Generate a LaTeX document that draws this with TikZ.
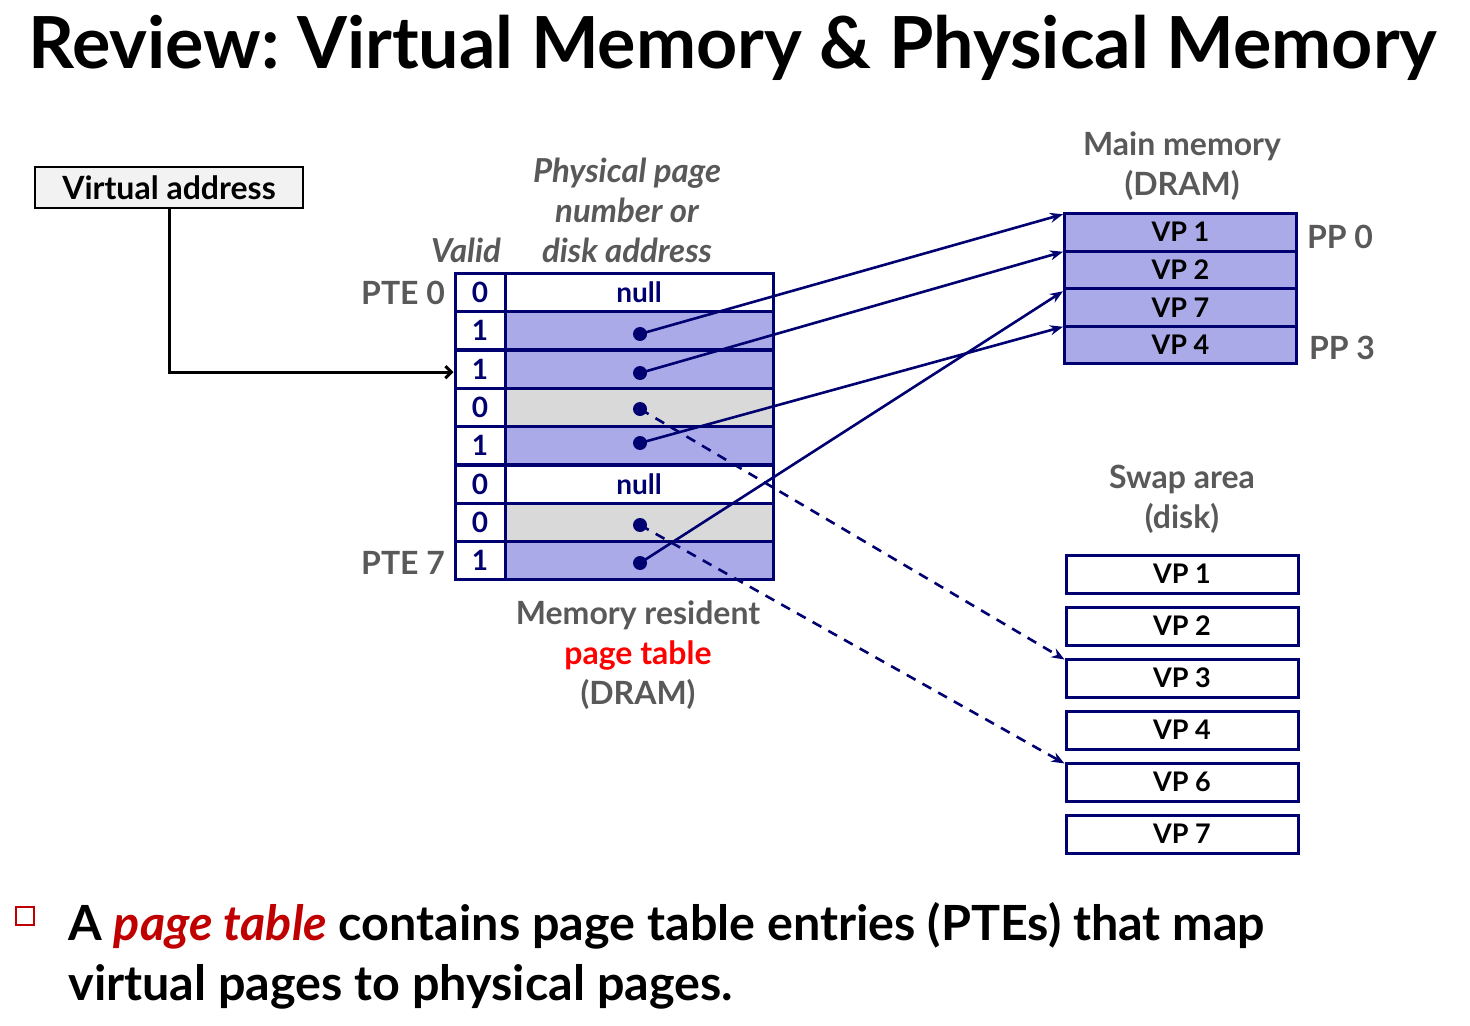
\documentclass[tikz,border=0pt]{standalone}
\usepackage{fontspec}
\setmainfont{Lato}
\usetikzlibrary{arrows.meta}
\definecolor{navy}{RGB}{0,0,112}
\definecolor{ptefill}{RGB}{170,170,232}
\definecolor{ptegray}{RGB}{217,217,217}
\definecolor{lblgray}{RGB}{89,89,89}
\definecolor{darkred}{RGB}{192,0,0}
\frenchspacing
\begin{document}
\begin{tikzpicture}[x=0.5pt,y=-0.5pt,>=Stealth,font=\bfseries]
\useasboundingbox (0,0) rectangle (1470,1026);
\tikzstyle{vc}=[draw=navy,line width=1.5pt,fill=white,minimum width=25pt,minimum height=19.17pt,inner sep=0pt,text height=10pt,text depth=0pt,text=navy,font=\fontsize{14}{16}\bfseries\selectfont]
\tikzstyle{pc}=[vc,minimum width=134pt]
\tikzstyle{mc}=[draw=navy,line width=1.5pt,fill=ptefill,minimum width=116pt,minimum height=18.75pt,inner sep=0pt,text height=9.5pt,text depth=0pt,font=\fontsize{13.5}{15}\bfseries\selectfont]
\tikzstyle{sc}=[mc,fill=white,minimum height=19pt]
\tikzstyle{pdot}=[circle,fill=navy,inner sep=0pt,minimum size=7pt]
\tikzstyle{lbl}=[text=lblgray,font=\fontsize{16}{20}\bfseries\selectfont]
\tikzstyle{link}=[navy,line width=1.3pt,-{Stealth[length=6.5pt,width=5pt]}]
% title
\node[anchor=base west,inner sep=0pt,font=\fontsize{35.9}{40}\bfseries\selectfont] (title) at (28,69) {Review: Virtual Memory \& Physical Memory};
% virtual address
\node[draw,line width=1pt,fill=gray!10,minimum width=134pt,minimum height=20.5pt,inner sep=0pt,font=\fontsize{16}{18}\bfseries\selectfont] (va) at (169,187.5) {Virtual address};
% page table
\node[lbl,align=center,font=\fontsize{16.5}{20}\bfseries\itshape\selectfont] (ppnlbl) at (627,210) {Physical page\\number or\\disk address};
\node[lbl,font=\fontsize{16.5}{20}\bfseries\itshape\selectfont] (validlbl) at (466,250) {Valid};
\node[vc] (v0) at (480,292.5) {0}; \node[pc] (p0) at (639,292.5) {null};
\node[vc] (v1) at (480,330.8) {1}; \node[pc,fill=ptefill] (p1) at (639,330.8) {};
\node[vc] (v2) at (480,369.2) {1}; \node[pc,fill=ptefill] (p2) at (639,369.2) {};
\node[vc] (v3) at (480,407.5) {0}; \node[pc,fill=ptegray] (p3) at (639,407.5) {};
\node[vc] (v4) at (480,445.8) {1}; \node[pc,fill=ptefill] (p4) at (639,445.8) {};
\node[vc] (v5) at (480,484.2) {0}; \node[pc] (p5) at (639,484.2) {null};
\node[vc] (v6) at (480,522.5) {0}; \node[pc,fill=ptegray] (p6) at (639,522.5) {};
\node[vc] (v7) at (480,560.8) {1}; \node[pc,fill=ptefill] (p7) at (639,560.8) {};
\node[lbl,anchor=east] (pte0) at (452,293) {PTE 0};
\node[lbl,anchor=east] (pte7) at (452,563) {PTE 7};
\node[lbl,align=center] (ptlbl) at (638,655) {Memory resident\\\textcolor{red}{page table}\\(DRAM)};
% main memory
\node[lbl,align=center] (mmlbl) at (1182,166) {Main memory\\(DRAM)};
\node[mc] (m0) at (1180.5,232.5) {VP 1};
\node[mc] (m1) at (1180.5,270) {VP 2};
\node[mc] (m2) at (1180.5,307.5) {VP 7};
\node[mc] (m3) at (1180.5,345) {VP 4};
\node[lbl] (pp0) at (1340,237) {PP 0};
\node[lbl] (pp3) at (1342,348) {PP 3};
% swap area
\node[lbl,align=center] (swlbl) at (1182,499) {Swap area\\(disk)};
\node[sc] (s1) at (1182,574) {VP 1};
\node[sc] (s2) at (1182,626) {VP 2};
\node[sc] (s3) at (1182,678) {VP 3};
\node[sc] (s4) at (1182,730) {VP 4};
\node[sc] (s6) at (1182,782) {VP 6};
\node[sc] (s7) at (1182,834) {VP 7};
% pointers
\node[pdot] (d1) at (640,334) {}; \node[pdot] (d2) at (640,373) {}; \node[pdot] (d3) at (640,409) {};
\node[pdot] (d4) at (640,443) {}; \node[pdot] (d6) at (640,525) {}; \node[pdot] (d7) at (640,563) {};
\draw[link] (d1.center) -- ([yshift=-1pt]m0.north west); \draw[link] (d2.center) -- ([yshift=-1pt]m1.north west);
\draw[link] (d7.center) -- ([yshift=-2pt]m2.north west); \draw[link] (d4.center) -- ([yshift=-1pt]m3.north west);
\draw[link,dash pattern=on 5pt off 4pt] (d3.center) -- ([yshift=-1pt]s3.north west);
\draw[link,dash pattern=on 5pt off 4pt] (d6.center) -- ([yshift=-1pt]s6.north west);
\draw[line width=1.5pt,-{Straight Barb[length=3pt,width=6pt]}] (va.south) |- ([yshift=-1.5pt]v2.west);
% bullet
\node[draw=darkred,fill=white,line width=0.8pt,minimum size=9pt,inner sep=0pt] (bul) at (25,916) {};
\node[anchor=base west,inner sep=0pt,font=\fontsize{24.25}{30}\bfseries\selectfont] (txt1) at (68,940) {A \textcolor{darkred}{\textit{page table}} contains page table entries (PTEs) that map};
\node[anchor=base west,inner sep=0pt,font=\fontsize{24.25}{30}\bfseries\selectfont] (txt2) at (68,1000) {virtual pages to physical pages.};
\end{tikzpicture}
\end{document}
